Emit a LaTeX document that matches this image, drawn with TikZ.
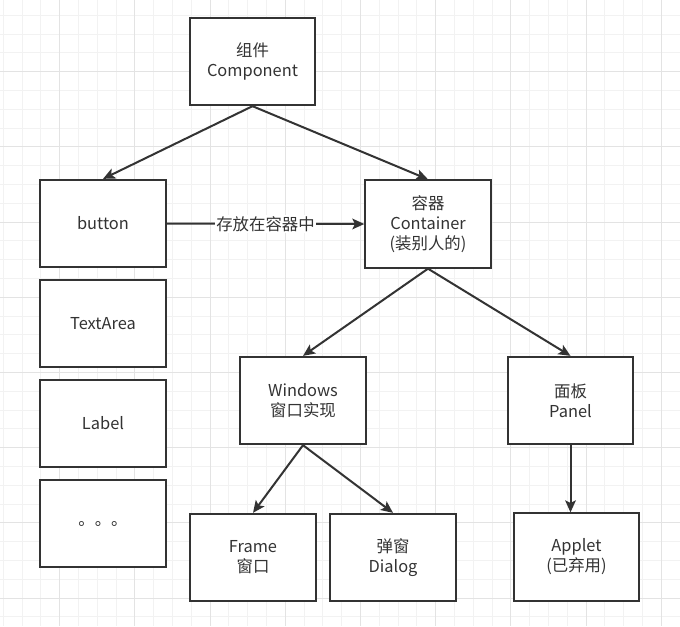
\documentclass[tikz,border=0pt]{standalone}
\usepackage{fontspec}
\setmainfont{Noto Sans CJK SC}
\usepackage{xcolor}
\usetikzlibrary{arrows.meta}

\definecolor{inkgray}{HTML}{333333}
\definecolor{gridminor}{HTML}{F2F2F2}
\definecolor{gridmajor}{HTML}{E3E3E3}

\tikzset{
  block/.style={draw=inkgray, line width=1.5pt, fill=white, text=inkgray,
    minimum width=94pt, minimum height=65.5pt, align=center, inner sep=2pt},
  link/.style={draw=inkgray, line width=1.5pt,
    -{Stealth[length=9pt,width=8pt,inset=2pt]}},
}

\begin{document}
\begin{tikzpicture}[x=0.75pt, y=-0.75pt, font=\fontsize{12.3pt}{15pt}\selectfont]
  \useasboundingbox (0,0) rectangle (680,626);
  % Background grid: light lines, a darker one every fourth step.
  \begin{scope}
    \fill[white] (0,0) rectangle (680,626);
    \foreach \k in {0,...,35} {
      \draw[gridminor, line width=0.75pt] ({3.3+18.8*\k},0) -- ++(0,626);
    }
    \foreach \k in {0,...,32} {
      \draw[gridminor, line width=0.75pt] (0,{15.3+18.8*\k}) -- ++(680,0);
    }
    \foreach \k in {0,...,8} {
      \draw[gridmajor, line width=0.75pt] ({59.7+75.2*\k},0) -- ++(0,626);
      \draw[gridmajor, line width=0.75pt] (0,{71.7+75.2*\k}) -- ++(680,0);
    }
  \end{scope}
  % Boxes of the class tree.
  \node[block] (comp) at (252.5,61.5) {组件\\Component};
  \node[block] (button) at (103,223.5) {button};
  \node[block] (textarea) at (103,323.5) {TextArea};
  \node[block] (label) at (103,423.5) {Label};
  \node[block] (more) at (103,523.5) {。。。};
  \node[block] (cont) at (428,224) {容器\\Container\\(装别人的)};
  \node[block] (win) at (303,400.5) {Windows\\窗口实现};
  \node[block] (panel) at (570.5,400.5) {面板\\Panel};
  \node[block] (frame) at (253,557.5) {Frame\\窗口};
  \node[block] (dialog) at (393,557.5) {弹窗\\Dialog};
  \node[block] (applet) at (576.5,557) {Applet\\(已弃用)};
  % Connectors.
  \draw[link] (comp.south) -- (button.north);
  \draw[link] (comp.south) -- (cont.north);
  \draw[link] (button.east) -- node[fill=white, text=inkgray, inner sep=1pt] {存放在容器中} (cont.west);
  \draw[link] (cont.south) -- (win.north);
  \draw[link] (cont.south) -- (panel.north);
  \draw[link] (win.south) -- (frame.north);
  \draw[link] (win.south) -- (dialog.north);
  \draw[link] (panel.south) -- (panel.south |- applet.north);
\end{tikzpicture}
\end{document}
